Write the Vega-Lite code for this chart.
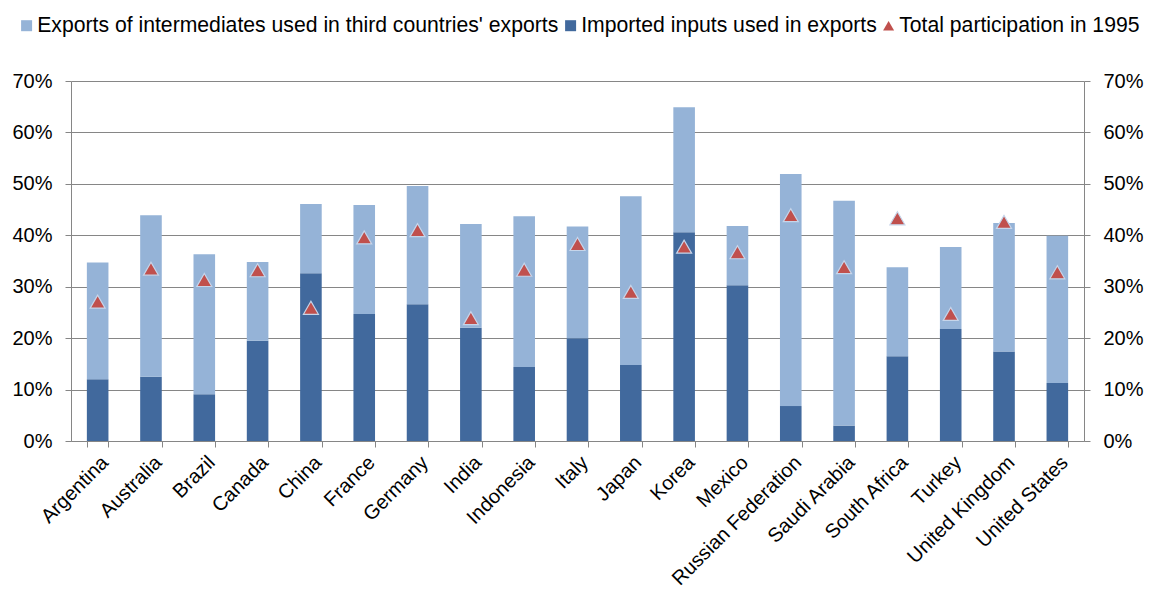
{
  "$schema": "https://vega.github.io/schema/vega-lite/v6.json",
  "autosize": "none",
  "width": 1013,
  "height": 360,
  "padding": {"left": 71, "top": 81, "right": 69, "bottom": 153},
  "background": "white",
  "config": {
    "view": {"stroke": null},
    "font": "Liberation Sans",
    "axis": {"labelFont": "Liberation Sans", "labelFontSize": 20, "labelColor": "#000000", "domainColor": "#868686", "tickColor": "#868686", "gridColor": "#868686", "tickSize": 6, "title": null},
    "legend": {"labelFont": "Liberation Sans", "labelFontSize": 21.2, "labelColor": "#000000"}
  },
  "datasets": {
    "bars": [
      {"country": "Argentina", "series": "Imported inputs used in exports", "value": 12.0},
      {"country": "Argentina", "series": "Exports of intermediates used in third countries' exports", "value": 22.7},
      {"country": "Australia", "series": "Imported inputs used in exports", "value": 12.5},
      {"country": "Australia", "series": "Exports of intermediates used in third countries' exports", "value": 31.4},
      {"country": "Brazil", "series": "Imported inputs used in exports", "value": 9.1},
      {"country": "Brazil", "series": "Exports of intermediates used in third countries' exports", "value": 27.2},
      {"country": "Canada", "series": "Imported inputs used in exports", "value": 19.5},
      {"country": "Canada", "series": "Exports of intermediates used in third countries' exports", "value": 15.3},
      {"country": "China", "series": "Imported inputs used in exports", "value": 32.6},
      {"country": "China", "series": "Exports of intermediates used in third countries' exports", "value": 13.5},
      {"country": "France", "series": "Imported inputs used in exports", "value": 24.7},
      {"country": "France", "series": "Exports of intermediates used in third countries' exports", "value": 21.2},
      {"country": "Germany", "series": "Imported inputs used in exports", "value": 26.6},
      {"country": "Germany", "series": "Exports of intermediates used in third countries' exports", "value": 23.0},
      {"country": "India", "series": "Imported inputs used in exports", "value": 22.0},
      {"country": "India", "series": "Exports of intermediates used in third countries' exports", "value": 20.2},
      {"country": "Indonesia", "series": "Imported inputs used in exports", "value": 14.4},
      {"country": "Indonesia", "series": "Exports of intermediates used in third countries' exports", "value": 29.3},
      {"country": "Italy", "series": "Imported inputs used in exports", "value": 20.0},
      {"country": "Italy", "series": "Exports of intermediates used in third countries' exports", "value": 21.7},
      {"country": "Japan", "series": "Imported inputs used in exports", "value": 14.8},
      {"country": "Japan", "series": "Exports of intermediates used in third countries' exports", "value": 32.8},
      {"country": "Korea", "series": "Imported inputs used in exports", "value": 40.6},
      {"country": "Korea", "series": "Exports of intermediates used in third countries' exports", "value": 24.3},
      {"country": "Mexico", "series": "Imported inputs used in exports", "value": 30.3},
      {"country": "Mexico", "series": "Exports of intermediates used in third countries' exports", "value": 11.5},
      {"country": "Russian Federation", "series": "Imported inputs used in exports", "value": 6.8},
      {"country": "Russian Federation", "series": "Exports of intermediates used in third countries' exports", "value": 45.1},
      {"country": "Saudi Arabia", "series": "Imported inputs used in exports", "value": 3.0},
      {"country": "Saudi Arabia", "series": "Exports of intermediates used in third countries' exports", "value": 43.7},
      {"country": "South Africa", "series": "Imported inputs used in exports", "value": 16.5},
      {"country": "South Africa", "series": "Exports of intermediates used in third countries' exports", "value": 17.3},
      {"country": "Turkey", "series": "Imported inputs used in exports", "value": 21.8},
      {"country": "Turkey", "series": "Exports of intermediates used in third countries' exports", "value": 15.9},
      {"country": "United Kingdom", "series": "Imported inputs used in exports", "value": 17.4},
      {"country": "United Kingdom", "series": "Exports of intermediates used in third countries' exports", "value": 25.0},
      {"country": "United States", "series": "Imported inputs used in exports", "value": 11.3},
      {"country": "United States", "series": "Exports of intermediates used in third countries' exports", "value": 28.6}
    ],
    "tri": [
      {"country": "Argentina", "total1995": 27.1},
      {"country": "Australia", "total1995": 33.5},
      {"country": "Brazil", "total1995": 31.3},
      {"country": "Canada", "total1995": 33.2},
      {"country": "China", "total1995": 25.9},
      {"country": "France", "total1995": 39.6},
      {"country": "Germany", "total1995": 41.0},
      {"country": "India", "total1995": 23.9},
      {"country": "Indonesia", "total1995": 33.3},
      {"country": "Italy", "total1995": 38.3},
      {"country": "Japan", "total1995": 29.0},
      {"country": "Korea", "total1995": 37.8},
      {"country": "Mexico", "total1995": 36.7},
      {"country": "Russian Federation", "total1995": 43.9},
      {"country": "Saudi Arabia", "total1995": 33.8},
      {"country": "South Africa", "total1995": 43.3},
      {"country": "Turkey", "total1995": 24.7},
      {"country": "United Kingdom", "total1995": 42.6},
      {"country": "United States", "total1995": 32.8}
    ]
  },
  "layer": [
    {
      "data": {"name": "bars"},
      "mark": {"type": "bar"},
      "encoding": {
        "x": {
          "field": "country", "type": "nominal", "sort": null,
          "scale": {"paddingInner": 0.595, "paddingOuter": 0.2975},
          "axis": {"labelAngle": -45, "tickBand": "extent", "labelPadding": 5, "domainColor": "#868686"}
        },
        "y": {
          "field": "value", "type": "quantitative", "stack": "zero",
          "scale": {"domain": [0, 70], "nice": false},
          "axis": {"orient": "left", "values": [0, 10, 20, 30, 40, 50, 60, 70], "labelExpr": "datum.value + '%'", "grid": true, "labelPadding": 13, "domain": true}
        },
        "color": {
          "field": "series", "type": "nominal",
          "scale": {
            "domain": ["Exports of intermediates used in third countries' exports", "Imported inputs used in exports", "Total participation in 1995"],
            "range": ["#95B3D7", "#41699D", "#C0504D"]
          },
          "legend": {
            "title": null, "orient": "none", "legendX": -55, "legendY": -66, "direction": "horizontal",
            "labelLimit": 800, "symbolSize": 121, "labelOffset": 0, "columnPadding": 1,
            "symbolStrokeWidth": 0,
            "encode": {"symbols": {"update": {"shape": {"signal": "datum.value === 'Total participation in 1995' ? 'triangle-up' : 'square'"}}}}
          }
        },
        "order": {"field": "series", "sort": "descending"}
      }
    },
    {
      "data": {"name": "tri"},
      "mark": {"type": "point", "shape": "triangle-up", "filled": true, "size": 225, "opacity": 1, "stroke": "#C6D5EA", "strokeWidth": 1.2},
      "encoding": {
        "x": {"field": "country", "type": "nominal", "sort": null},
        "y": {
          "field": "total1995", "type": "quantitative",
          "scale": {"domain": [0, 70], "nice": false},
          "axis": {"orient": "right", "values": [0, 10, 20, 30, 40, 50, 60, 70], "labelExpr": "datum.value + '%'", "grid": false, "labelPadding": 13, "domain": true}
        },
        "color": {"datum": "Total participation in 1995"}
      }
    }
  ],
  "resolve": {"axis": {"y": "independent"}}
}
